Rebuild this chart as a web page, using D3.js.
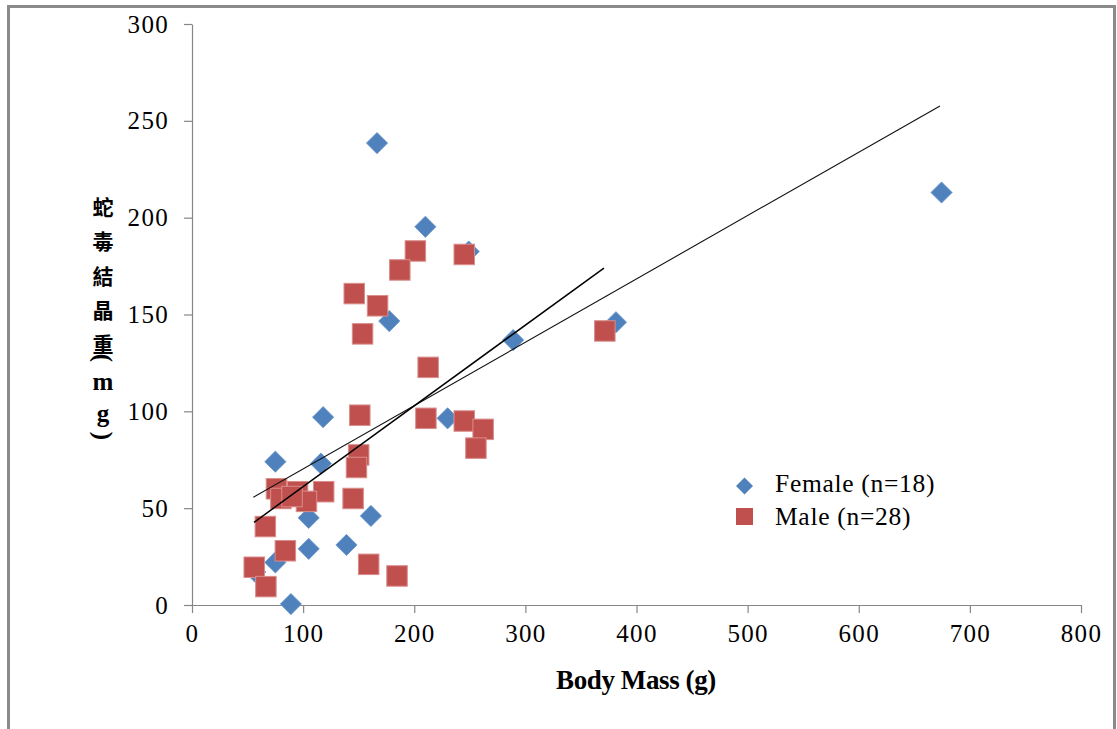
<!DOCTYPE html>
<html>
<head>
<meta charset="utf-8">
<script src="https://cdn.jsdelivr.net/npm/d3@7"></script>
<style>
  html, body { margin: 0; padding: 0; background: #fff; }
  svg { display: block; }
</style>
</head>
<body>
<svg id="chart" width="1117" height="729"></svg>
<script>
// ---- data ----
const xTicks = [0, 100, 200, 300, 400, 500, 600, 700, 800];
const yTicks = [0, 50, 100, 150, 200, 250, 300];

const femaleMass  = [166.5, 674.5, 210, 249, 177.5, 381.5, 289, 118, 230, 75, 116, 105, 161, 105, 139, 75, 89, 57];
const femaleVenom = [238.5, 213, 195.3, 182.5, 146.6, 146, 136.8, 97, 96.4, 74, 73, 45, 46, 29, 31, 22, 0.5, 17];

const maleMass  = [371.5, 245, 201, 187, 146, 167, 153.5, 212.5, 151, 210.5, 245, 262, 255.5, 150, 148, 76, 95, 118.5, 80, 103, 145, 66, 84, 56, 66.5, 159, 184.5, 90];
const maleVenom = [141.5, 181, 182.8, 173, 160.8, 154.5, 140, 122.7, 98, 96.4, 95, 90.7, 81, 77.5, 71, 60, 58.5, 58.5, 55, 53.5, 55, 40.5, 28, 19.5, 9.5, 21, 15, 56];

// trend line end points [mass, venom]
const femaleTrend = [[55.2, 55.6], [673.1, 257.7]];
const maleTrend   = [[55.8, 42.7], [370.7, 174]];

const legendLabels = ["Female (n=18)", "Male (n=28)"];
const xTitle = "Body Mass (g)";
const yTitleChars = ["蛇", "毒", "結", "晶", "重", "(", "m", "g", ")"];

// ---- drawing ----
const svg = d3.select("#chart");
const serif = "'Liberation Serif', 'Times New Roman', serif";
const blue = "#4F81BD", red = "#C0504D", axisCol = "#868686";

// outer frame
svg.append("rect")
  .attr("x", 8.5).attr("y", 6.5).attr("width", 1106).attr("height", 740)
  .attr("fill", "none").attr("stroke", "#8a8a8a").attr("stroke-width", 3);

const x = d3.scaleLinear().domain([0, 800]).range([192, 1081]);
const y = d3.scaleLinear().domain([0, 300]).range([605, 24]);

// axes
const xAxis = svg.append("g").attr("transform", "translate(0,605)")
  .call(d3.axisBottom(x).tickValues(xTicks).tickSize(8).tickSizeOuter(0).tickPadding(11));
const yAxis = svg.append("g").attr("transform", "translate(192,0)")
  .call(d3.axisLeft(y).tickValues(yTicks).tickSize(8).tickSizeOuter(0).tickPadding(15));

[xAxis, yAxis].forEach(g => {
  g.select(".domain").attr("stroke", axisCol).attr("stroke-width", 1.2);
  g.selectAll(".tick line").attr("stroke", axisCol).attr("stroke-width", 1.2);
  g.selectAll(".tick text").attr("font-family", serif).attr("font-size", 25)
    .attr("letter-spacing", 1.3).attr("fill", "#000");
});

// female diamonds
const femaleData = femaleMass.map((m, i) => ({ m, v: femaleVenom[i] }));
const maleData = maleMass.map((m, i) => ({ m, v: maleVenom[i] }));
const diamond = d3.symbol(d3.symbolSquare, 225);

svg.append("g").selectAll("path").data(femaleData).join("path")
  .attr("d", diamond)
  .attr("transform", d => `translate(${x(d.m)},${y(d.v)}) rotate(45)`)
  .attr("fill", blue).attr("stroke", "#6d97cc").attr("stroke-width", 0.8)
  .attr("stroke-linejoin", "round");

// male squares
const sq = 20.5;
svg.append("g").selectAll("rect").data(maleData).join("rect")
  .attr("x", d => x(d.m) - sq / 2).attr("y", d => y(d.v) - sq / 2)
  .attr("width", sq).attr("height", sq)
  .attr("fill", red).attr("stroke", "#d98e8c").attr("stroke-width", 1);

// trend lines
const line = d3.line().x(d => x(d[0])).y(d => y(d[1]));
svg.append("path").datum(femaleTrend).attr("d", line)
  .attr("fill", "none").attr("stroke", "#111").attr("stroke-width", 1.1);
svg.append("path").datum(maleTrend).attr("d", line)
  .attr("fill", "none").attr("stroke", "#000").attr("stroke-width", 1.5);

// legend
const lg = svg.append("g");
lg.append("path").attr("d", d3.symbol(d3.symbolSquare, 144))
  .attr("transform", "translate(744.5,486) rotate(45)").attr("fill", blue);
lg.append("rect").attr("x", 736).attr("y", 508).attr("width", 17).attr("height", 17).attr("fill", red);
lg.selectAll("text").data(legendLabels).join("text")
  .attr("x", 775).attr("y", (d, i) => 492 + i * 33)
  .attr("font-family", serif).attr("font-size", 25.5).attr("letter-spacing", 0.7).attr("fill", "#000")
  .text(d => d);

// x title
svg.append("text").attr("x", 636).attr("y", 689).attr("text-anchor", "middle")
  .attr("font-family", serif).attr("font-weight", "bold").attr("font-size", 27)
  .attr("letter-spacing", -0.4)
  .attr("fill", "#000").text(xTitle);

// y title (stacked vertical text)
const yPos = [206, 240, 275, 309, 343, 358, 381, 413, 436];
const yt = svg.append("g");
yTitleChars.forEach((c, i) => {
  const isCJK = /[\u4e00-\u9fff]/.test(c);
  const isParen = c === "(" || c === ")";
  const t = yt.append("text")
    .attr("text-anchor", "middle").attr("dominant-baseline", "central")
    .attr("font-weight", "bold").attr("fill", "#000")
    .attr("font-family", isCJK ? "'Noto Sans CJK TC', 'Noto Sans CJK SC', sans-serif" : serif)
    .attr("font-size", isCJK ? 21 : 25)
    .text(c);
  if (isParen) {
    t.attr("transform", `translate(103,${yPos[i]}) rotate(90)`).attr("x", 0).attr("y", 0);
  } else {
    t.attr("x", 103).attr("y", yPos[i]);
  }
});
</script>
</body>
</html>
